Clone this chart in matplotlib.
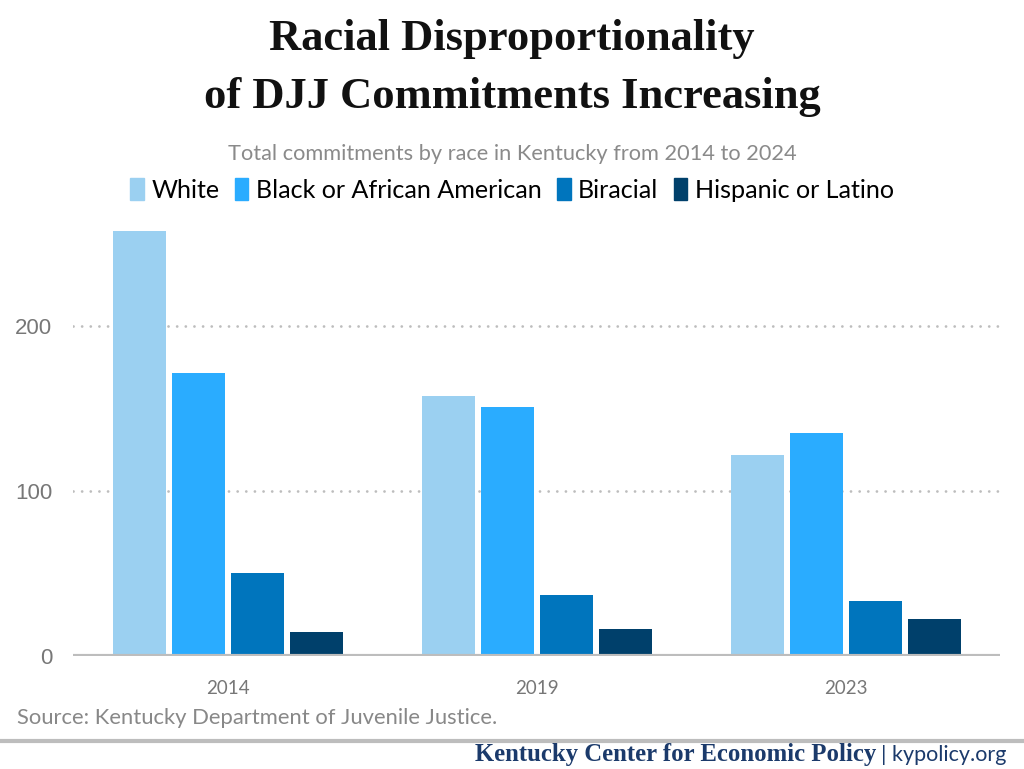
import matplotlib
matplotlib.use("Agg")
import matplotlib.pyplot as plt
import numpy as np

years = ["2014", "2019", "2023"]
series_names = ["White", "Black or African American", "Biracial", "Hispanic or Latino"]
white = [258, 158, 122]
black = [172, 151, 135]
biracial = [50, 37, 33]
hispanic = [14, 16, 22]
colors = ["#9bd0f1", "#2aacff", "#0075bd", "#00406b"]
yticks = [0, 100, 200]

W, H = 1024, 769
fig = plt.figure(figsize=(W / 100, H / 100), dpi=100)

def fx(px):
    return px / W

def fy(py):
    return 1 - py / H

ax_left, ax_right = 73, 1000
ax_top, ax_bottom = 227.8, 655.5
ax = fig.add_axes([fx(ax_left), fy(ax_bottom), fx(ax_right - ax_left), (ax_bottom - ax_top) / H])

x = np.arange(len(years))
bw = 53 / 309
step = 59 / 309
data = [white, black, biracial, hispanic]
for i, (vals, c) in enumerate(zip(data, colors)):
    offs = (i - 1.5) * step
    ax.bar(x + offs, vals, width=bw, color=c, zorder=3, linewidth=0)

ax.set_xlim(-0.5, 2.5)
ax.set_ylim(0, 260)
for v in [100, 200]:
    ax.axhline(v, color="#bdbdbd", linestyle=(0, (0.01, 3.1)), linewidth=2.0, zorder=1,
               dash_capstyle="round")
ax.axhline(0, color="#bdbdbd", linewidth=3, zorder=4)

for s in ax.spines.values():
    s.set_visible(False)
ax.set_yticks(yticks)
ax.set_yticklabels([str(t) for t in yticks], fontsize=16, color="#777777",
                   family="Liberation Sans")
ax.tick_params(axis="y", length=0, pad=15)
ax.set_xticks(x)
ax.set_xticklabels(years, fontsize=13.5, color="#777777", family="Lato")
ax.tick_params(axis="x", length=0, pad=18)

# Title
fig.text(0.5, fy(39), "Racial Disproportionality", ha="center", va="center",
         fontsize=32, fontweight="bold", family="Liberation Serif", color="#111111")
fig.text(0.5, fy(97), "of DJJ Commitments Increasing", ha="center", va="center",
         fontsize=32, fontweight="bold", family="Liberation Serif", color="#111111")
fig.text(0.5, fy(154), "Total commitments by race in Kentucky from 2014 to 2024", ha="center",
         va="center", fontsize=15.7, family="Lato", color="#8a8a8a")

# Legend
handles = [plt.Rectangle((0, 0), 1, 1, color=c) for c in colors]
fig.legend(handles, series_names, loc="center", bbox_to_anchor=(0.5, fy(190)), ncol=4,
           frameon=False, prop={"family": "Lato", "size": 18.1}, handlelength=0.55,
           handleheight=0.95, handletextpad=0.3, columnspacing=0.6, borderaxespad=0)

# Source
fig.text(fx(17), fy(718), "Source: Kentucky Department of Juvenile Justice.", ha="left",
         va="center", fontsize=15.8, family="Lato", color="#888888")

# Separator
fig.add_artist(plt.Line2D([0, 1], [fy(741), fy(741)], color="#bdbdbd", linewidth=3,
                          transform=fig.transFigure))

# Footer
t2 = fig.text(fx(1006), fy(755), "| kypolicy.org", ha="right", va="center", fontsize=15.5,
              family="Lato", color="#1b3a6b")
fig.canvas.draw()
bb = t2.get_window_extent()
fig.text(bb.x0 / W - 0.004, fy(755), "Kentucky Center for Economic Policy", ha="right",
         va="center", fontsize=17.8, fontweight="bold", family="Liberation Serif", color="#1b3a6b")

fig.savefig("out.png", dpi=100, facecolor="white")
